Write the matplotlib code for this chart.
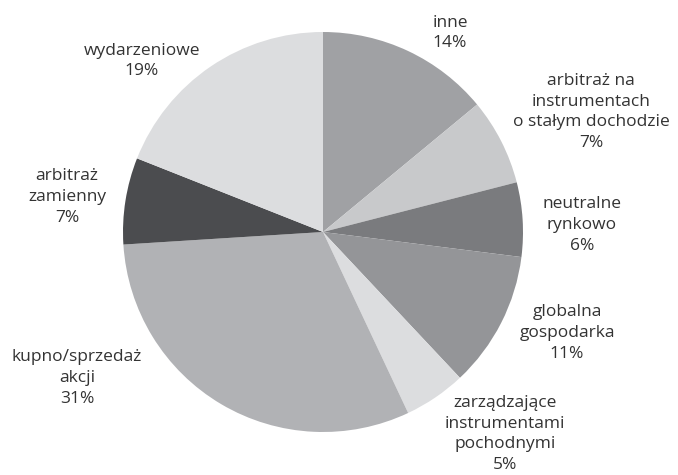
import matplotlib
matplotlib.use("Agg")
import matplotlib.pyplot as plt

# hedge fund strategies, share of assets
names = ["inne", "arbitraż na\ninstrumentach\no stałym dochodzie", "neutralne\nrynkowo",
         "globalna\ngospodarka", "zarządzające\ninstrumentami\npochodnymi",
         "kupno/sprzedaż\nakcji", "arbitraż\nzamienny", "wydarzeniowe"]
shares = [14, 7, 6, 11, 5, 31, 7, 19]
colors = ["#a0a1a4", "#c8c9cb", "#7a7b7e", "#949598", "#dcdddf",
          "#b1b2b5", "#4b4c4f", "#dcdddf"]

# label centres in pixels from the top-left corner
label_xy = [(450, 33), (591, 112), (582, 225), (567, 333),
            (505, 434), (77, 378), (67, 197), (142, 61)]

W, H = 678, 475
fig = plt.figure(figsize=(W / 100, H / 100), dpi=100)
ax = fig.add_axes([0, 0, 1, 1])

ax.pie(shares, colors=colors, startangle=90, counterclock=False,
       center=(323, H - 232), radius=200,
       wedgeprops=dict(linewidth=0))

for name, val, (x, y) in zip(names, shares, label_xy):
    ax.text(x, H - y, f"{name}\n{val}%", ha="center", va="center",
            fontsize=12.5, family="Open Sans", color="#333333", linespacing=1.4)

ax.set_xlim(0, W)
ax.set_ylim(0, H)
ax.axis("off")

fig.savefig("out.png", dpi=100)
